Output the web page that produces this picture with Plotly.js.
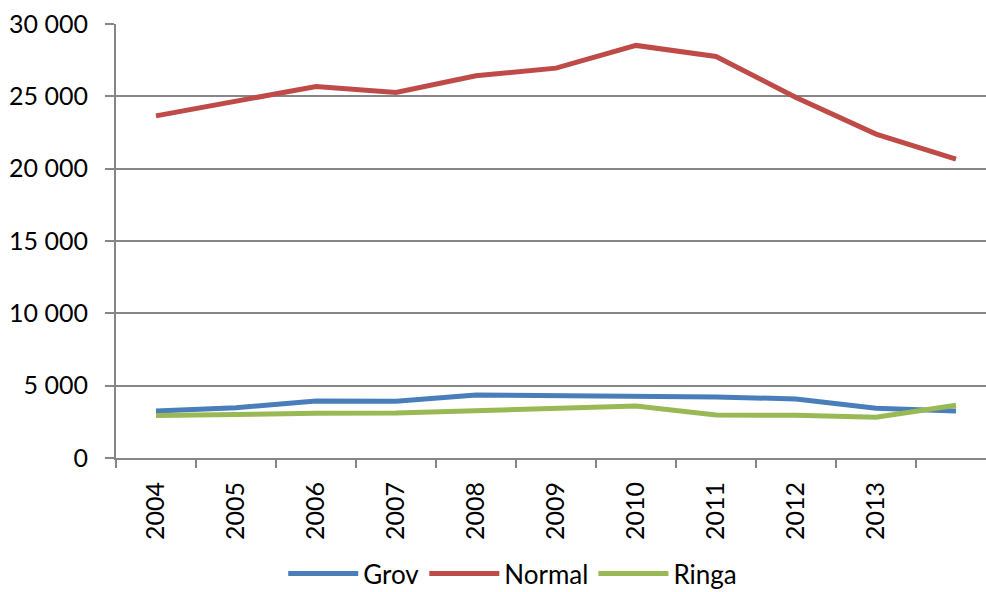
<!DOCTYPE html>
<html><head><meta charset="utf-8">
<script src="https://cdn.plot.ly/plotly-3.0.1.min.js"></script>
<style>html,body{margin:0;padding:0;background:#fff}#chart{width:986px;height:592px}</style>
</head><body><div id="chart"></div>
<script>
const years = ["2004","2005","2006","2007","2008","2009","2010","2011","2012","2013"];
const grov   = [3250, 3480, 3940, 3920, 4360, 4310, 4340, 4220, 4080, 3440, 3250];
const normal = [23650, 24690, 25680, 25270, 26420, 26950, 28520, 27760, 24920, 22390, 20660];
const ringa  = [2930, 3040, 3090, 3110, 3270, 3410, 3600, 2980, 2950, 2820, 3650];

const idx = grov.map((_, i) => i);
const font = "Lato, 'Open Sans', sans-serif";
const mk = (name, y, color) => ({x: idx, y: y, name: name, type: 'scatter', mode: 'lines',
  line: {color: color, width: 5}, xaxis: 'x', yaxis: 'y'});

const data = [
  mk('Grov', grov, '#4A7EBB'),
  mk('Normal', normal, '#BE4B48'),
  mk('Ringa', ringa, '#98B954')
];
const boundaries = [];
for (let i = 0; i <= idx.length; i++) boundaries.push(i - 0.5);
data.push({x: [0], y: [0], xaxis: 'x2', yaxis: 'y', mode: 'markers', marker: {opacity: 0}, showlegend: false, hoverinfo: 'skip'});

const layout = {
  width: 986, height: 592,
  margin: {l: 116, r: 0, t: 24, b: 134},
  paper_bgcolor: '#fff', plot_bgcolor: '#fff',
  separators: ', ',
  font: {family: font, size: 25, color: '#000'},
  showlegend: true,
  legend: {orientation: 'h', xref: 'container', x: 0.52, xanchor: 'center',
    yref: 'container', y: 0.031, yanchor: 'middle',
    font: {family: font, size: 26, color: '#000'}, traceorder: 'normal', itemwidth: 70},
  xaxis: {range: [-0.5, 10.375], tickvals: years.map((_, i) => i), ticktext: years,
    tickangle: -90, ticks: '', showgrid: false, zeroline: false, showline: true, automargin: false,
    linecolor: '#868686', linewidth: 2, ticklabelstandoff: 12,
    tickfont: {family: font, size: 25, color: '#000'}},
  xaxis2: {overlaying: 'x', matches: 'x', range: [-0.5, 10.375], tickvals: boundaries, automargin: false,
    ticktext: boundaries.map(() => ''), ticks: 'outside', ticklen: 9, tickwidth: 2,
    tickcolor: '#868686', showgrid: false, zeroline: false, showline: false, side: 'bottom'},
  yaxis: {range: [0, 30000], tickvals: [0, 5000, 10000, 15000, 20000, 25000, 30000], automargin: false,
    tickformat: ',d', ticks: 'outside', ticklen: 9, tickwidth: 2, tickcolor: '#868686',
    showgrid: true, gridcolor: '#868686', gridwidth: 2, zeroline: false,
    showline: true, linecolor: '#868686', linewidth: 2, ticklabelstandoff: 12,
    tickfont: {family: font, size: 25, color: '#000'}}
};
Plotly.newPlot('chart', data, layout, {staticPlot: true, displayModeBar: false});
</script></body></html>
